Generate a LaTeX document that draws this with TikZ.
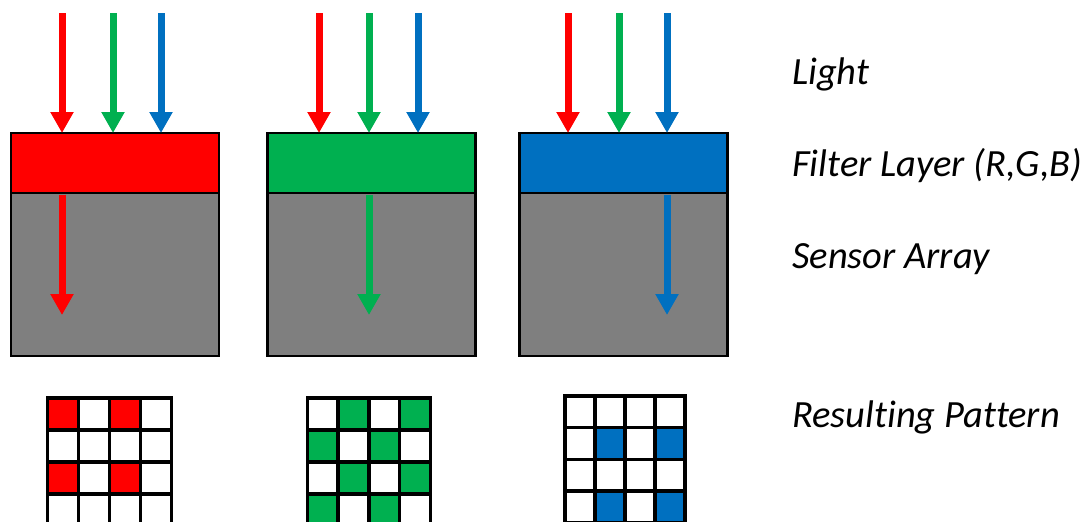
\documentclass[tikz,border=0pt]{standalone}
\usepackage{fontspec}
\setmainfont[Ligatures=NoCommon]{Carlito}
\usetikzlibrary{arrows.meta}
\definecolor{fred}{HTML}{FF0000}
\definecolor{fgreen}{HTML}{00B050}
\definecolor{fblue}{HTML}{0070C0}
\definecolor{fgray}{HTML}{7F7F7F}
\begin{document}
\begin{tikzpicture}[x=1pt,y=-1pt,
  filt/.style={draw=black,line width=2.5pt,minimum width=208pt,minimum height=60pt,inner sep=0pt,outer sep=0pt,anchor=north west},
  sens/.style={draw=black,line width=2.5pt,fill=fgray,minimum width=208pt,minimum height=163pt,inner sep=0pt,outer sep=0pt,anchor=north west},
  ray/.style={line width=7pt,-{Triangle[width=22pt,length=21pt]}},
  lab/.style={anchor=base west,inner sep=0pt,font=\itshape\fontsize{38.5}{44}\selectfont},
  gline/.style={line width=3.5pt,line cap=rect}]
\useasboundingbox (0,0) rectangle (1088,522);
\clip (0,0) rectangle (1088,522);

% sensor arrays
\node[sens] (s1) at (11,193) {};
\node[sens] (s2) at (267.5,193) {};
\node[sens] (s3) at (519.5,193) {};
% filter layers
\node[filt,fill=fred] (f1) at (11,133) {};
\node[filt,fill=fgreen] (f2) at (267.5,133) {};
\node[filt,fill=fblue] (f3) at (519.5,133) {};

% incoming light
\coordinate (r1) at (62,13);   \coordinate (g1) at (113,13);  \coordinate (b1) at (161,13);
\coordinate (r2) at (319,13);  \coordinate (g2) at (369,13);  \coordinate (b2) at (418,13);
\coordinate (r3) at (568,13);  \coordinate (g3) at (619,13);  \coordinate (b3) at (667,13);
\draw[ray,fred]   (r1) -- (r1 |- f1.north);
\draw[ray,fgreen] (g1) -- (g1 |- f1.north);
\draw[ray,fblue]  (b1) -- (b1 |- f1.north);
\draw[ray,fred]   (r2) -- (r2 |- f2.north);
\draw[ray,fgreen] (g2) -- (g2 |- f2.north);
\draw[ray,fblue]  (b2) -- (b2 |- f2.north);
\draw[ray,fred]   (r3) -- (r3 |- f3.north);
\draw[ray,fgreen] (g3) -- (g3 |- f3.north);
\draw[ray,fblue]  (b3) -- (b3 |- f3.north);

% transmitted light
\coordinate (t1) at (62,315);
\coordinate (t2) at (369,315);
\coordinate (t3) at (667,315);
\draw[ray,fred]   (t1 |- f1.south) ++(0,1.5) -- (t1);
\draw[ray,fgreen] (t2 |- f2.south) ++(0,1.5) -- (t2);
\draw[ray,fblue]  (t3 |- f3.south) ++(0,1.5) -- (t3);

% resulting patterns
% red
\begin{scope}[shift={(47.5,398)}]
  \foreach \c/\r in {0/0,2/0,0/2,2/2}
    \fill[fred] (\c*31,\r*32) rectangle ++(31,32);
  \foreach \i in {0,...,4} {
    \draw[gline] (\i*31,0) -- (\i*31,128);
    \draw[gline] (0,\i*32) -- (124,\i*32);
  }
\end{scope}
% green
\begin{scope}[shift={(307.5,398)}]
  \foreach \c/\r in {1/0,3/0,0/1,2/1,1/2,3/2,0/3,2/3}
    \fill[fgreen] (\c*30.7,\r*32) rectangle ++(30.7,32);
  \foreach \i in {0,...,4} {
    \draw[gline] (\i*30.7,0) -- (\i*30.7,128);
    \draw[gline] (0,\i*32) -- (122.8,\i*32);
  }
\end{scope}
% blue
\begin{scope}[shift={(565,396)}]
  \foreach \c/\r in {1/1,3/1,1/3,3/3}
    \fill[fblue] (\c*30,\r*31.7) rectangle ++(30,31.7);
  \foreach \i in {0,...,4} {
    \draw[gline] (\i*30,0) -- (\i*30,126.8);
    \draw[gline] (0,\i*31.7) -- (120,\i*31.7);
  }
\end{scope}

% labels
\node[lab] (lLight) at (792,84) {Light};
\node[lab] (lFilter) at (792,176) {Filter Layer (R,G,B)};
\node[lab] (lSensor) at (792,268) {Sensor Array};
\node[lab] (lResult) at (792,427) {Resulting Pattern};
\end{tikzpicture}
\end{document}
